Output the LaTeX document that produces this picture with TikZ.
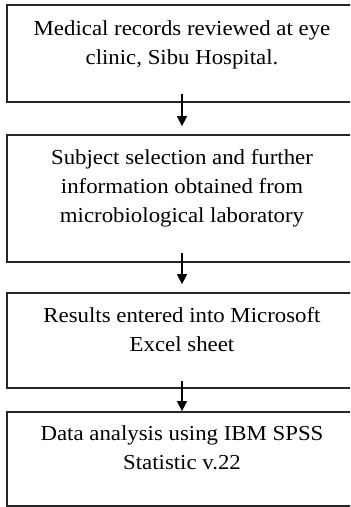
\documentclass[tikz,border=0pt]{standalone}
\usepackage{fontspec}
\setmainfont{Liberation Serif}[FakeStretch=1.07]
\usetikzlibrary{arrows.meta}

\begin{document}
\begin{tikzpicture}[x=0.75pt, y=-0.75pt,
    stepbox/.style ={rectangle, draw=black!85, line width=1.3pt, minimum width=262.5pt, inner sep=0pt},
    steptext/.style ={align=center, anchor=base, inner sep=0pt, font=\fontsize{16}{21.75}\selectfont},
    flow/.style ={draw=black, line width=0.9pt, -{Triangle[length=7.5pt, width=7.5pt]}}]
   \useasboundingbox (0,0) rectangle (350,507);
   \clip (0,0) rectangle (350,507);
   \node[stepbox, minimum height=72.75pt] (rec) at (182,53.5)  {};
   \node[stepbox, minimum height=95.25pt] (sel) at (182,198.5)  {};
   \node[stepbox, minimum height=71.25pt] (res) at (182,340.5)  {};
   \node[stepbox, minimum height=70.5pt] (ana) at (182,459)  {};
   \node[steptext] (recT) at ([yshift=-45pt]rec.north) {Medical records reviewed at eye\\clinic, Sibu Hospital.};
   \node[steptext] (selT) at ([yshift=-66pt]sel.north) {Subject selection and further\\information obtained from\\microbiological laboratory};
   \node[steptext] (resT) at ([yshift=-44.25pt]res.north) {Results entered into Microsoft\\Excel sheet};
   \node[steptext] (anaT) at ([yshift=-43.5pt]ana.north) {Data analysis using IBM SPSS\\Statistic v.22};
   \draw[flow] ([yshift=7pt]rec.south) to ([yshift=6pt]sel.north);
   \draw[flow] ([yshift=7.5pt]sel.south) to ([yshift=6pt]res.north);
   \draw[flow] ([yshift=6pt]res.south) to (ana.north);
 \end{tikzpicture}
\end{document}
